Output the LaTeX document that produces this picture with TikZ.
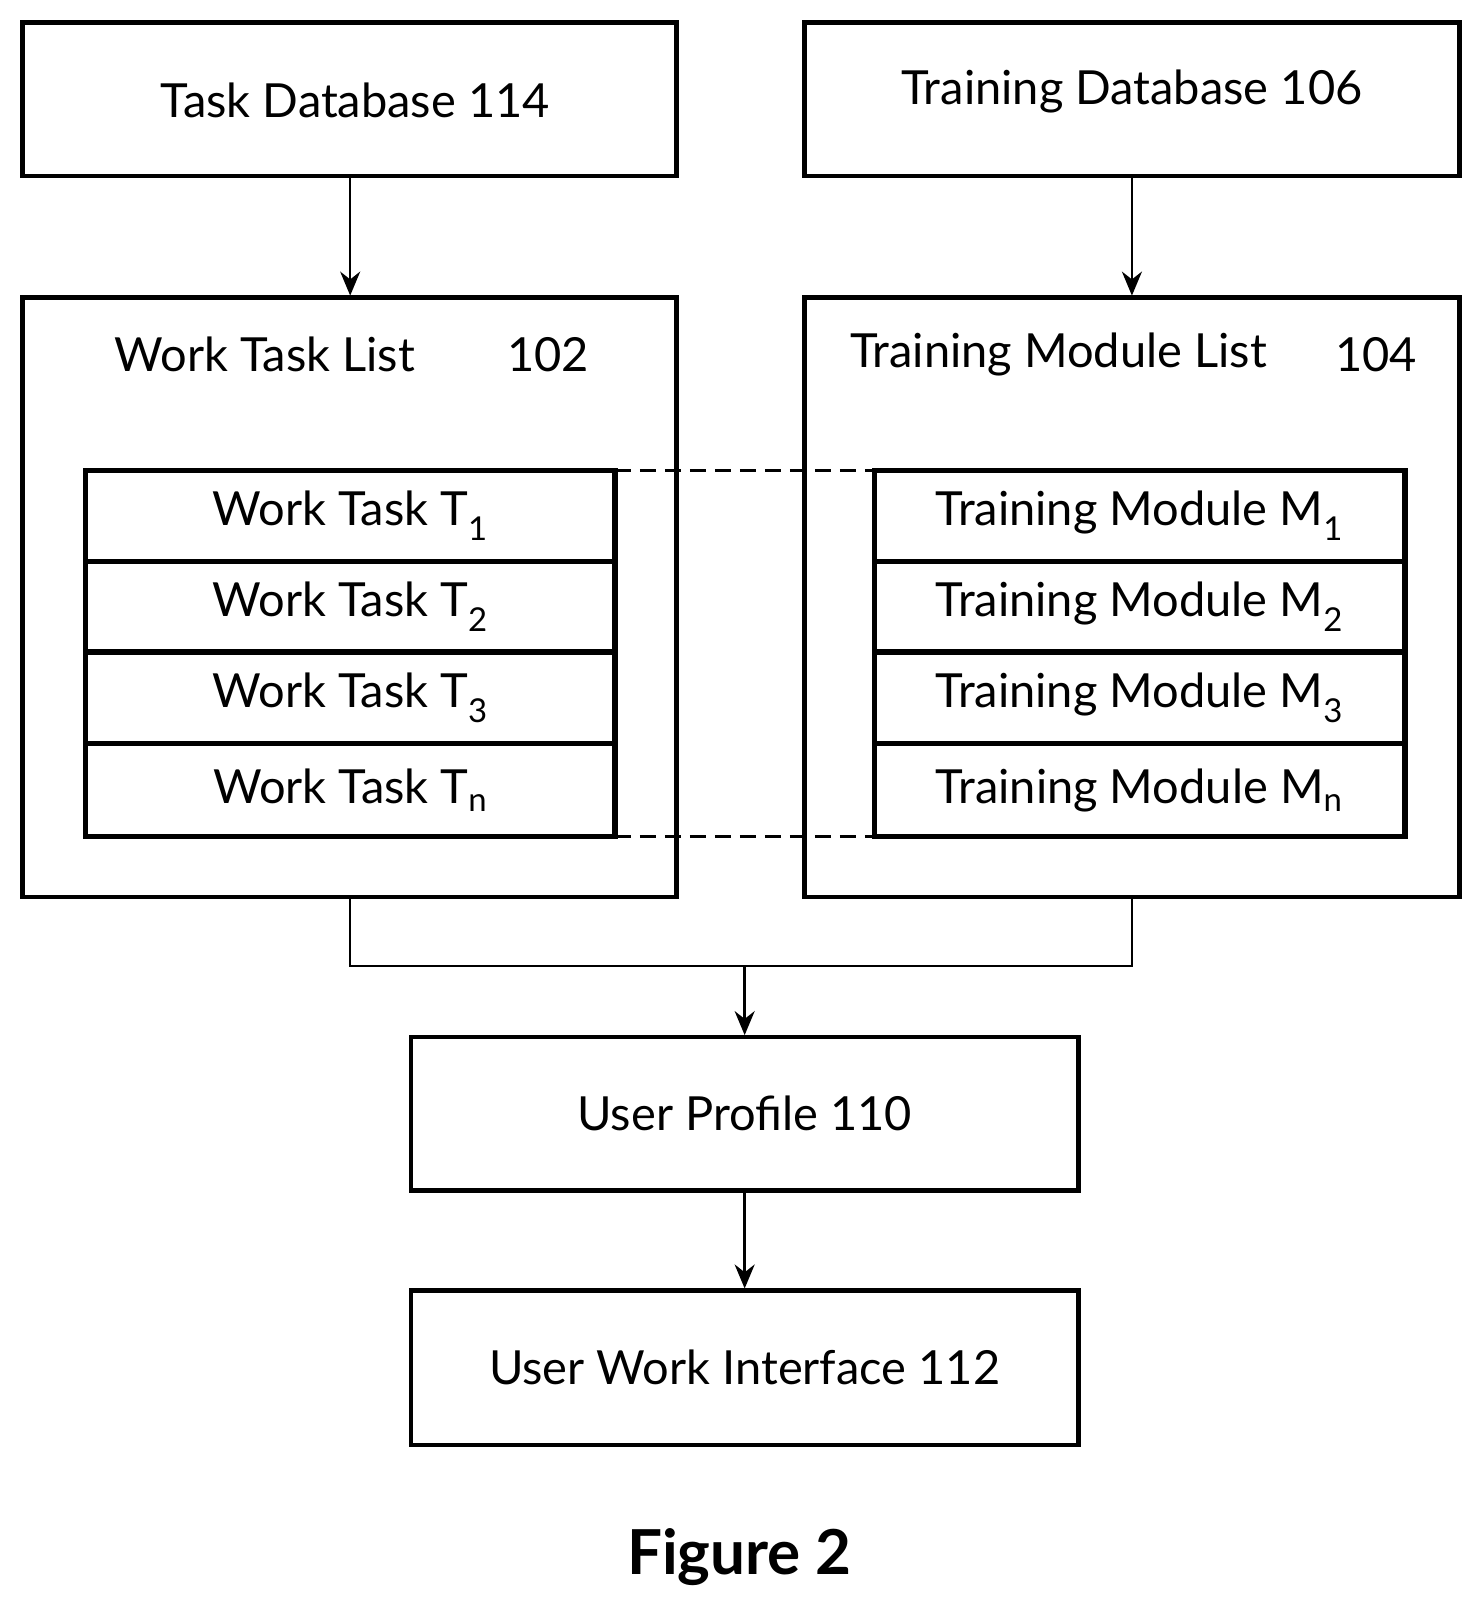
\documentclass[tikz,border=0pt]{standalone}
\usepackage{fontspec}
\setmainfont{Lato}
\usetikzlibrary{arrows.meta}
\begin{document}
\begin{tikzpicture}[x=1.03pt,y=-1.03pt,
  box/.style={draw,line width=4.5pt},
  row/.style={draw,line width=5.5pt},
  lbl/.style={font=\fontsize{47}{52}\selectfont},
  conn/.style={line width=2.5pt},
  arr/.style={conn,-{Stealth[length=24pt,width=20pt]}}]
\useasboundingbox (0,0) rectangle (1440,1569);
\fill[white] (0,0) rectangle (1440,1569);
\draw[box] (22,22) rectangle (657,171); \node[lbl] (tdb) at (345,97) {Task Database 114};
\draw[box] (781,22) rectangle (1417,171); \node[lbl] (trdb) at (1099,89) {Training Database 106};
\draw[box] (22,289) rectangle (657,871); \node[lbl,anchor=west] (wtl) at (108,344) {Work Task List};
\node[lbl] (n102) at (532,344) {102};
\draw[box] (781,289) rectangle (1417,871); \node[lbl,anchor=west] (tml) at (822,344) {Training Module List};
\node[lbl] (n104) at (1336,344) {104};
\foreach \a/\b/\s [count=\i] in {457/545/1,545/633/2,633/722/3,722/812/n}{
  \draw[row] (83,\a) rectangle (597,\b);
  \node[lbl] (wt\i) at (340,{(\a+\b)/2}) {Work Task T\textsubscript{\s}};
  \draw[row] (849,\a) rectangle (1364,\b);
  \node[lbl] (tm\i) at (1106,{(\a+\b)/2}) {Training Module M\textsubscript{\s}};
}
\draw[line width=3pt,dash pattern=on 16pt off 9pt] (597,457) -- (849,457);
\draw[line width=3pt,dash pattern=on 16pt off 9pt] (597,812) -- (849,812);
\draw[arr] (340,171) -- (340,287);
\draw[arr] (1099,171) -- (1099,287);
\draw[box] (399,1007) rectangle (1047,1156); \node[lbl] (up) at (723,1081) {User Profile 110};
\draw[box] (399,1253) rectangle (1047,1403); \node[lbl] (uwi) at (723,1328) {User Work Interface 112};
\coordinate (j) at (723,938);
\draw[conn] (340,871) |- (1099,938) -- (1099,871);
\draw[arr] (j) -- (723,1005);
\draw[arr] (723,1156) -- (723,1251);
\node[font=\fontsize{62}{66}\selectfont\bfseries] (fig) at (718,1512) {Figure 2};
\end{tikzpicture}
\end{document}
